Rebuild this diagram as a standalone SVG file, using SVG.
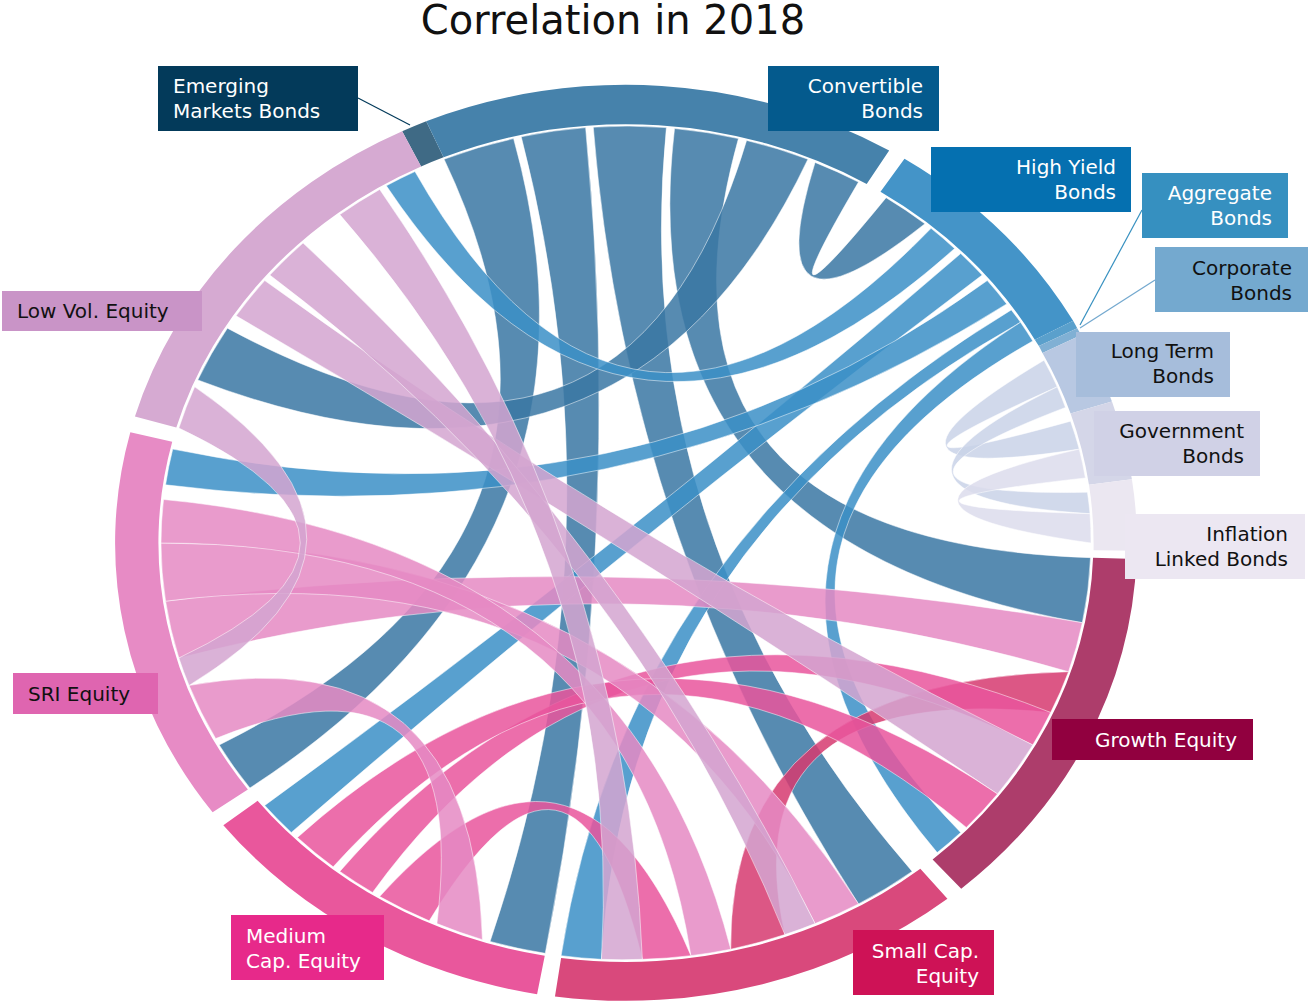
<svg xmlns="http://www.w3.org/2000/svg" width="1308" height="1004" viewBox="0 0 1308 1004">
<style>
text{font-family:"DejaVu Sans",Verdana,sans-serif;font-size:20px}
.w{fill:#fff}.k{fill:#111}.r{text-anchor:end}
.ch path{stroke:#fff;stroke-opacity:.5;stroke-width:1;vector-effect:non-scaling-stroke;fill-opacity:.85}
.cv{fill:#3a77a3}.hy{fill:#3b8fc7}.lt{fill:#c9d2e8}.gv{fill:#dcdcec}.in{fill:#ece8f2}
.gs{fill:#d63a70}.sr{fill:#e58ac3}.lv{fill:#d4a5d0}.md{fill:#e9559c}
</style>
<rect width="1308" height="1004" fill="#fff"/>
<text x="613" y="34" text-anchor="middle" style="font-size:40px" class="k">Correlation in 2018</text>
<g transform="translate(626 543) scale(511 458)">
<g id="connectors" class="ch">
<path class="cv" d="M-.356 -.838A.91 .91 0 0 1 -.220 -.883Q0 0 -.736 .535A.91 .91 0 0 1 -.796 .441Q0 0 -.356 -.838Z"/>
<path class="cv" d="M-.205 -.887A.91 .91 0 0 1 -.079 -.907Q0 0 -.158 .896A.91 .91 0 0 1 -.266 .870Q0 0 -.205 -.887Z"/>
<path class="cv" d="M-.064 -.908A.91 .91 0 0 1 .079 -.907Q0 0 .560 .717A.91 .91 0 0 1 .455 .788Q0 0 -.064 -.908Z"/>
<path class="cv" d="M.095 -.905A.91 .91 0 0 1 .220 -.883Q0 0 .909 .032A.91 .91 0 0 1 .893 .174Q0 0 .095 -.905Z"/>
<path class="cv" d="M.236 -.879A.91 .91 0 0 1 .356 -.838Q0 0 -.838 -.356A.91 .91 0 0 1 -.780 -.469Q0 0 .236 -.879Z"/>
<path class="cv" d="M.370 -.831A.91 .91 0 0 1 .455 -.788Q.25 -.4 .509 -.754A.91 .91 0 0 1 .585 -.697Q.25 -.4 .370 -.831Z"/>
<path class="hy" d="M.597 -.687A.91 .91 0 0 1 .643 -.643Q0 0 -.469 -.780A.91 .91 0 0 1 -.413 -.811Q0 0 .597 -.687Z"/>
<path class="hy" d="M.655 -.632A.91 .91 0 0 1 .697 -.585Q0 0 -.655 .632A.91 .91 0 0 1 -.707 .573Q0 0 .655 -.632Z"/>
<path class="hy" d="M.707 -.573A.91 .91 0 0 1 .745 -.522Q0 0 -.901 -.127A.91 .91 0 0 1 -.887 -.205Q0 0 .707 -.573Z"/>
<path class="hy" d="M.754 -.509A.91 .91 0 0 1 .772 -.482Q0 0 -.048 .909A.91 .91 0 0 1 -.127 .901Q0 0 .754 -.509Z"/>
<path class="hy" d="M.772 -.482A.91 .91 0 0 1 .796 -.441Q.1 0 .655 .632A.91 .91 0 0 1 .609 .676Q.1 0 .772 -.482Z"/>
<path class="lt" d="M.818 -.399A.91 .91 0 0 1 .844 -.341Q.4 -.12 .870 -.266A.91 .91 0 0 1 .887 -.205Q.4 -.12 .818 -.399Z"/>
<path class="lt" d="M.844 -.341A.91 .91 0 0 1 .860 -.296Q.4 -.1 .903 -.111A.91 .91 0 0 1 .908 -.064Q.4 -.1 .844 -.341Z"/>
<path class="gv" d="M.887 -.205A.91 .91 0 0 1 .899 -.142Q.4 -.08 .908 -.064A.91 .91 0 0 1 .910 0Q.4 -.08 .887 -.205Z"/>
<path class="sr" d="M.893 .174A.91 .91 0 0 1 .866 .281Q0 0 -.875 .251A.91 .91 0 0 1 -.901 .127Q0 0 .893 .174Z"/>
<path class="gs" d="M.866 .281A.91 .91 0 0 1 .831 .370Q.2 .3 .311 .855A.91 .91 0 0 1 .205 .887Q.2 .3 .866 .281Z"/>
<path class="md" d="M.831 .370A.91 .91 0 0 1 .796 .441Q0 0 -.496 .763A.91 .91 0 0 1 -.560 .717Q0 0 .831 .370Z"/>
<path class="lv" d="M.796 .441A.91 .91 0 0 1 .727 .548Q0 0 -.763 -.496A.91 .91 0 0 1 -.707 -.573Q0 0 .796 .441Z"/>
<path class="md" d="M.727 .548A.91 .91 0 0 1 .666 .621Q0 0 -.573 .707A.91 .91 0 0 1 -.643 .643Q0 0 .727 .548Z"/>
<path class="sr" d="M.455 .788A.91 .91 0 0 1 .370 .831Q0 0 -.901 .127A.91 .91 0 0 1 -.910 0Q0 0 .455 .788Z"/>
<path class="lv" d="M.370 .831A.91 .91 0 0 1 .311 .855Q0 0 -.697 -.585A.91 .91 0 0 1 -.632 -.655Q0 0 .370 .831Z"/>
<path class="sr" d="M.205 .887A.91 .91 0 0 1 .127 .901Q0 0 -.910 0A.91 .91 0 0 1 -.905 -.095Q0 0 .205 .887Z"/>
<path class="md" d="M.127 .901A.91 .91 0 0 1 .032 .909Q-.1 .3 -.385 .825A.91 .91 0 0 1 -.482 .772Q-.1 .3 .127 .901Z"/>
<path class="lv" d="M.032 .909A.91 .91 0 0 1 -.048 .909Q0 0 -.560 -.717A.91 .91 0 0 1 -.482 -.772Q0 0 .032 .909Z"/>
<path class="sr" d="M-.281 .866A.91 .91 0 0 1 -.370 .831Q-.3 .2 -.803 .427A.91 .91 0 0 1 -.855 .311Q-.3 .2 -.281 .866Z"/>
<path class="lv" d="M-.855 .311A.91 .91 0 0 1 -.875 .251Q-.4 0 -.875 -.251A.91 .91 0 0 1 -.844 -.341Q-.4 0 -.855 .311Z"/>
</g>
</g>
<g transform="translate(626 543) scale(511 458)">
<g id="emerging"><path fill="#3f6a85" d="M-.438 -.899A1 1 0 0 1 -.391 -.921L-.357 -.842A.915 .915 0 0 0 -.401 -.822Z"/></g>
<g id="convertible"><path fill="#4682ab" d="M-.391 -.921A1 1 0 0 1 .515 -.857L.471 -.784A.915 .915 0 0 0 -.357 -.842Z"/></g>
<g id="highyield"><path fill="#4494c8" d="M.545 -.839A1 1 0 0 1 .875 -.485L.800 -.444A.915 .915 0 0 0 .498 -.767Z"/></g>
<g id="aggregate"><path fill="#5aa0cc" d="M.875 -.485A1 1 0 0 1 .883 -.469L.808 -.430A.915 .915 0 0 0 .800 -.444Z"/></g>
<g id="corporate"><path fill="#80b0d4" d="M.883 -.469A1 1 0 0 1 .891 -.454L.815 -.415A.915 .915 0 0 0 .808 -.430Z"/></g>
<g id="longterm"><path fill="#b8c8e2" d="M.891 -.454A1 1 0 0 1 .951 -.309L.870 -.283A.915 .915 0 0 0 .815 -.415Z"/></g>
<g id="government"><path fill="#d4d6e8" d="M.951 -.309A1 1 0 0 1 .990 -.139L.906 -.127A.915 .915 0 0 0 .870 -.283Z"/></g>
<g id="inflation"><path fill="#ebe7f1" d="M.990 -.139A1 1 0 0 1 1.0 .017L.915 .016A.915 .915 0 0 0 .906 -.127Z"/></g>
<g id="growth"><path fill="#ad3d6b" d="M.999 .035A1 1 0 0 1 .656 .755L.600 .691A.915 .915 0 0 0 .914 .032Z"/></g>
<g id="smallcap"><path fill="#d9497c" d="M.629 .777A1 1 0 0 1 -.139 .990L-.127 .906A.915 .915 0 0 0 .576 .711Z"/></g>
<g id="mediumcap"><path fill="#e9579c" d="M-.174 .985A1 1 0 0 1 -.788 .616L-.721 .563A.915 .915 0 0 0 -.159 .901Z"/></g>
<g id="sri"><path fill="#e78bc5" d="M-.809 .588A1 1 0 0 1 -.970 -.242L-.888 -.221A.915 .915 0 0 0 -.740 .538Z"/></g>
<g id="lowvol"><path fill="#d6aad2" d="M-.961 -.276A1 1 0 0 1 -.438 -.899L-.401 -.822A.915 .915 0 0 0 -.880 -.252Z"/></g>
</g>
<g id="leaders" stroke-width="1.2" fill="none">
<line x1="358" y1="98" x2="410" y2="125" stroke="#033a5a"/>
<line x1="1142" y1="210" x2="1080" y2="325" stroke="#3690c0"/>
<line x1="1155" y1="280" x2="1080" y2="328" stroke="#74a9cf"/>
</g>
<g id="labels">
<g id="lbl-emerging"><rect x="158" y="66" width="200" height="65" fill="#033a5a"/><text x="173" y="93" class="w">Emerging</text><text x="173" y="118" class="w">Markets Bonds</text></g>
<g id="lbl-convertible"><rect x="768" y="66" width="171" height="65" fill="#045a8d"/><text x="923" y="93" class="w r">Convertible</text><text x="923" y="118" class="w r">Bonds</text></g>
<g id="lbl-highyield"><rect x="931" y="147" width="200" height="65" fill="#0570b0"/><text x="1116" y="174" class="w r">High Yield</text><text x="1116" y="199" class="w r">Bonds</text></g>
<g id="lbl-aggregate"><rect x="1142" y="173" width="146" height="65" fill="#3690c0"/><text x="1272" y="200" class="w r">Aggregate</text><text x="1272" y="225" class="w r">Bonds</text></g>
<g id="lbl-corporate"><rect x="1155" y="247" width="153" height="65" fill="#74a9cf"/><text x="1292" y="275" class="k r">Corporate</text><text x="1292" y="300" class="k r">Bonds</text></g>
<g id="lbl-longterm"><rect x="1076" y="332" width="154" height="65" fill="#a6bddb"/><text x="1214" y="358" class="k r">Long Term</text><text x="1214" y="383" class="k r">Bonds</text></g>
<g id="lbl-government"><rect x="1094" y="411" width="166" height="65" fill="#d0d1e6"/><text x="1244" y="438" class="k r">Government</text><text x="1244" y="463" class="k r">Bonds</text></g>
<g id="lbl-inflation"><rect x="1125" y="514" width="180" height="65" fill="#ece7f2"/><text x="1288" y="541" class="k r">Inflation</text><text x="1288" y="566" class="k r">Linked Bonds</text></g>
<g id="lbl-growth"><rect x="1052" y="719" width="201" height="41" fill="#91003f"/><text x="1237" y="747" class="w r">Growth Equity</text></g>
<g id="lbl-smallcap"><rect x="853" y="930" width="141" height="65" fill="#ce1256"/><text x="979" y="958" class="w r">Small Cap.</text><text x="979" y="983" class="w r">Equity</text></g>
<g id="lbl-mediumcap"><rect x="231" y="915" width="153" height="65" fill="#e7298a"/><text x="246" y="943" class="w">Medium</text><text x="246" y="968" class="w">Cap. Equity</text></g>
<g id="lbl-sri"><rect x="13" y="673" width="145" height="41" fill="#df65b0"/><text x="28" y="701" class="k">SRI Equity</text></g>
<g id="lbl-lowvol"><rect x="2" y="291" width="200" height="40" fill="#c994c7"/><text x="17" y="318" class="k">Low Vol. Equity</text></g>
</g>
</svg>
